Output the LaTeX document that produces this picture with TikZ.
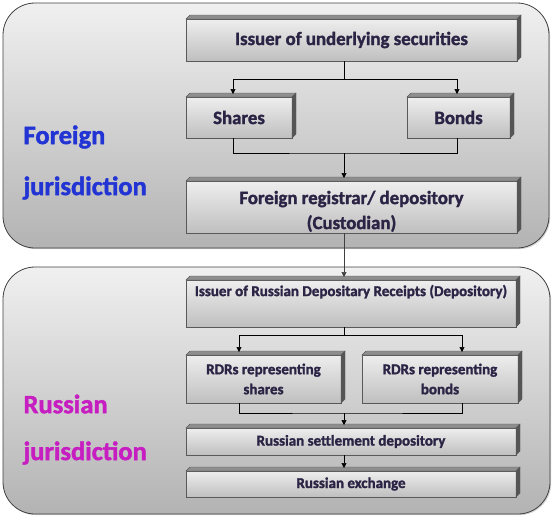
\documentclass[tikz,border=0pt]{standalone}
\usepackage{fontspec}
\setmainfont{Carlito}[BoldFeatures={FakeBold=1.6}]
\usetikzlibrary{positioning, calc, arrows.meta, shadows}
\usepackage{xcolor}
\definecolor{PanelTop}{HTML}{F0F0F0}
\definecolor{PanelBottom}{HTML}{B3B3B3}
\definecolor{BoxTop}{HTML}{EEEEEE}
\definecolor{BoxBottom}{HTML}{BFBFBF}
\definecolor{InkNavy}{HTML}{2B2445}
\definecolor{ForeignBlue}{HTML}{2234D4}
\definecolor{RussianPink}{HTML}{C61EC0}
\definecolor{LidGray}{HTML}{8E8E8E}
\definecolor{SideGray}{HTML}{555555}

\begin{document}
\begin{tikzpicture}[x=1pt, y=-1pt,
  panel/.style={draw=black!75, line width=0.8pt, rounded corners=32pt,
    top color=PanelTop, bottom color=PanelBottom,
    drop shadow={shadow xshift=1.2pt, shadow yshift=-1.2pt, opacity=0.35}},
  slab/.style={draw=black!65, line width=0.6pt, top color=BoxTop, bottom color=BoxBottom,
    inner sep=0pt, outer sep=0pt, align=center, text=InkNavy},
  bigtxt/.style={font=\fontsize{18.8}{25}\selectfont\bfseries},
  smalltxt/.style={font=\fontsize{15}{20}\selectfont\bfseries},
  flow/.style={-{Triangle[length=5pt,width=5pt]}, line width=0.6pt, shorten >=3pt},
  juris/.style={anchor=west, font=\fontsize{26.5}{30}\selectfont\bfseries}]
  \useasboundingbox (0,0) rectangle (554,517);

  % jurisdictions
  \draw[panel] (3,3) rectangle (549,248);
  \draw[panel] (3,267) rectangle (550,514);
  \node[juris, text=ForeignBlue] (forA) at (20,137) {Foreign};
  \node[juris, text=ForeignBlue] (forB) at (20,188) {jurisdiction};
  \node[juris, text=RussianPink] (rusA) at (20,404) {Russian};
  \node[juris, text=RussianPink] (rusB) at (20,453) {jurisdiction};

  % boxes
  \node[slab, bigtxt, minimum width=331pt, minimum height=42pt] (iss) at (351.5,40) {Issuer of underlying securities};
  \node[slab, bigtxt, minimum width=106pt, minimum height=41pt] (shares) at (239,117.5) {Shares};
  \node[slab, bigtxt, minimum width=103pt, minimum height=41pt] (bonds) at (458.5,117.5) {Bonds};
  \node[slab, bigtxt, minimum width=331pt, minimum height=52pt] (cust) at (351.5,207) {\rule{0pt}{22pt}Foreign registrar/ depository\\(Custodian)};
  \node[slab, smalltxt, minimum width=330pt, minimum height=47pt] (rdr) at (351,303.5) {Issuer of Russian Depositary Receipts (Depository)\\ \strut};
  \node[slab, smalltxt, minimum width=155pt, minimum height=48pt] (rsh) at (263.5,379) {RDRs representing\\shares};
  \node[slab, smalltxt, minimum width=156pt, minimum height=48pt] (rbd) at (440,379) {RDRs representing\\bonds};
  \node[slab, smalltxt, minimum width=330pt, minimum height=27pt] (settle) at (351,441.5) {Russian settlement depository};
  \node[slab, smalltxt, minimum width=330pt, minimum height=26pt] (exch) at (351,484) {Russian exchange};

  % bevelled edges
  \foreach \n in {iss, shares, bonds, cust, rdr, rsh, rbd, settle, exch} {
    \filldraw[fill=LidGray, draw=black!65, line width=0.4pt] (\n.north west) -- ++(4,-4) -- ($(\n.north east)+(4,-4)$) -- (\n.north east) -- cycle;
    \filldraw[fill=SideGray, draw=black!65, line width=0.4pt] (\n.north east) -- ++(4,-4) -- ($(\n.south east)+(4,-4)$) -- (\n.south east) -- cycle;
  }

  % connectors
  \coordinate (splitA) at (344,79);
  \coordinate (mergeA) at (344,153);
  \coordinate (splitB) at (344,335);
  \coordinate (mergeB) at (344,413);
  \coordinate (colL) at (233,0);
  \coordinate (colR) at (457,0);
  \coordinate (colLL) at (239,0);
  \coordinate (colRR) at (462,0);

  \draw[line width=0.6pt] (iss.south -| splitA) -- (splitA);
  \draw[flow] (splitA) -| (shares.north -| colL);
  \draw[flow] (splitA) -| (bonds.north -| colR);
  \draw[line width=0.6pt] (shares.south -| colL) |- (mergeA) -| (bonds.south -| colR);
  \draw[flow] (mergeA) -- (cust.north -| mergeA);
  \draw[flow, black!75] (cust.south -| mergeA) -- (rdr.north -| mergeA);

  \draw[line width=0.6pt] (rdr.south -| splitB) -- (splitB);
  \draw[flow] (splitB) -| (rsh.north -| colLL);
  \draw[flow] (splitB) -| (rbd.north -| colRR);
  \draw[line width=0.6pt] (rsh.south -| colLL) |- (mergeB) -| (rbd.south -| colRR);
  \draw[flow] (mergeB) -- (settle.north -| mergeB);
  \draw[flow] (settle.south -| mergeB) -- (exch.north -| mergeB);
\end{tikzpicture}
\end{document}
